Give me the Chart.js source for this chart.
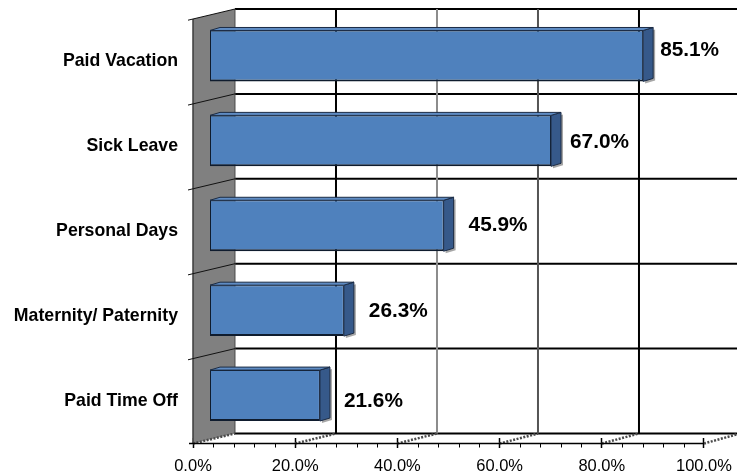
<!DOCTYPE html>
<html>
<head>
<meta charset="utf-8">
<script src="https://cdn.jsdelivr.net/npm/chart.js@4/dist/chart.umd.min.js"></script>
<style>
  html, body { margin: 0; padding: 0; background: #fff; }
  #wrap { width: 737px; height: 476px; }
</style>
</head>
<body>
<div id="wrap"><canvas id="c" width="737" height="476"></canvas></div>
<script>
// Share of employers offering each kind of paid leave (%)
const categories = ['Paid Vacation', 'Sick Leave', 'Personal Days', 'Maternity/ Paternity', 'Paid Time Off'];
const shares = [85.1, 67.0, 45.9, 26.3, 21.6];
const tickValues = [0, 20, 40, 60, 80, 100];
const minorStep = 4;

const FONT = "'Liberation Sans', Arial, Helvetica, sans-serif";

// Pseudo-3D look: walls sit in front of / behind the bar plane
const WALL_FRONT_DY = 5.5;
const WALL_BACK_DY = -4.5;
const BAR_DEPTH = { dx: 10, dy: -3 };
const gridColors = { 20: '#000', 40: '#8c8c8c', 60: '#555', 80: '#000', 100: '#000' };
const labelGap = [17, 19, 25, 25, 24];
const labelDy = [-6, 1, 0, 1, 6];

function poly(ctx, pts) {
  ctx.beginPath();
  ctx.moveTo(pts[0][0], pts[0][1]);
  for (let i = 1; i < pts.length; i++) ctx.lineTo(pts[i][0], pts[i][1]);
  ctx.closePath();
}

const frame3d = {
  id: 'frame3d',
  beforeDatasetsDraw(chart) {
    const { ctx, chartArea, scales: { y, xf, xb } } = chart;
    const n = categories.length;
    const bounds = [];
    for (let i = 0; i <= n; i++) bounds.push(y.getPixelForValue(i - 0.5));
    const fy = b => b + WALL_FRONT_DY;
    const by = b => b + WALL_BACK_DY;
    const fx0 = xf.getPixelForValue(0);
    const bx0 = xb.getPixelForValue(0);
    const slope = (WALL_BACK_DY - WALL_FRONT_DY) / (bx0 - fx0);

    ctx.save();
    // back wall: horizontal category rules
    ctx.strokeStyle = '#000';
    ctx.lineWidth = 2;
    bounds.forEach(b => {
      ctx.beginPath();
      ctx.moveTo(bx0, by(b));
      ctx.lineTo(chartArea.right, by(b));
      ctx.stroke();
    });
    // back wall: value gridlines
    tickValues.forEach(v => {
      if (v === 0) return;
      const x = xb.getPixelForValue(v);
      ctx.strokeStyle = gridColors[v];
      ctx.beginPath();
      ctx.moveTo(x, by(bounds[0]));
      ctx.lineTo(x, by(bounds[n]));
      ctx.stroke();
    });

    // side wall
    ctx.fillStyle = '#808080';
    poly(ctx, [[fx0, fy(bounds[0])], [bx0, by(bounds[0])], [bx0, by(bounds[n])], [fx0, fy(bounds[n])]]);
    ctx.fill();
    ctx.strokeStyle = '#3c3c3c';
    ctx.lineWidth = 1.5;
    ctx.beginPath();
    ctx.moveTo(fx0, fy(bounds[0]));
    ctx.lineTo(fx0, fy(bounds[n]));
    ctx.stroke();
    ctx.strokeStyle = '#4a4a4a';
    ctx.lineWidth = 1;
    ctx.beginPath();
    ctx.moveTo(bx0, by(bounds[0]));
    ctx.lineTo(bx0, by(bounds[n]));
    ctx.stroke();
    // slanted category rules on the side wall, with small ticks on the front edge
    ctx.strokeStyle = '#111';
    ctx.lineWidth = 1;
    for (let i = 0; i < n; i++) {
      const b = bounds[i];
      ctx.beginPath();
      ctx.moveTo(fx0 - 5, fy(b) - 5 * slope);
      ctx.lineTo(bx0, by(b));
      ctx.stroke();
    }

    // floor hatch lines joining front ticks to the back wall
    ctx.strokeStyle = '#4a4a4a';
    ctx.lineWidth = 2.5;
    ctx.setLineDash([2, 1.5]);
    tickValues.forEach(v => {
      ctx.beginPath();
      ctx.moveTo(xf.getPixelForValue(v), fy(bounds[n]));
      ctx.lineTo(xb.getPixelForValue(v), by(bounds[n]));
      ctx.stroke();
    });
    ctx.setLineDash([]);

    // front axis line and minor ticks
    const ay = fy(bounds[n]);
    ctx.strokeStyle = '#000';
    ctx.lineWidth = 1.5;
    ctx.beginPath();
    ctx.moveTo(fx0 - 4, ay);
    ctx.lineTo(xf.getPixelForValue(tickValues[tickValues.length - 1]), ay);
    ctx.stroke();
    ctx.lineWidth = 1;
    for (let v = minorStep; v < 100; v += minorStep) {
      if (v % 20 === 0) continue;
      const x = Math.round(xf.getPixelForValue(v)) + 0.5;
      ctx.beginPath();
      ctx.moveTo(x, ay);
      ctx.lineTo(x, ay + 4);
      ctx.stroke();
    }
    ctx.restore();
  },
  afterDatasetsDraw(chart) {
    const { ctx } = chart;
    const meta = chart.getDatasetMeta(0);
    const { dx, dy } = BAR_DEPTH;
    ctx.save();
    meta.data.forEach((el, i) => {
      const { x, y, base, height } = el.getProps(['x', 'y', 'base', 'height'], true);
      const top = y - height / 2;
      const bot = y + height / 2;
      // soft shadow behind the right face
      ctx.fillStyle = 'rgba(0,0,0,0.35)';
      poly(ctx, [[x + 2, top + 2], [x + dx + 2, top + dy + 2], [x + dx + 2, bot + dy + 2], [x + 2, bot + 2]]);
      ctx.fill();
      // right face
      ctx.fillStyle = '#36598a';
      ctx.strokeStyle = '#1b2b44';
      ctx.lineWidth = 1;
      poly(ctx, [[x, top], [x + dx, top + dy], [x + dx, bot + dy], [x, bot]]);
      ctx.fill();
      ctx.stroke();
      // top face
      ctx.fillStyle = '#5f8cc4';
      poly(ctx, [[base, top], [base + dx, top + dy], [x + dx, top + dy], [x, top]]);
      ctx.fill();
      ctx.stroke();

      // value label
      ctx.fillStyle = '#000';
      ctx.font = 'bold 20.8px ' + FONT;
      ctx.textAlign = 'left';
      ctx.textBaseline = 'middle';
      ctx.fillText(shares[i].toFixed(1) + '%', x + labelGap[i], y + labelDy[i]);
    });
    ctx.restore();
  }
};

function zeroPad(s) {
  s.paddingTop = 0; s.paddingBottom = 0; s.paddingLeft = 0; s.paddingRight = 0;
}

new Chart(document.getElementById('c'), {
  type: 'bar',
  data: {
    labels: categories,
    datasets: [{
      data: shares,
      backgroundColor: '#4f81bd',
      borderColor: '#0f1c2e',
      borderWidth: { top: 1, left: 1, right: 1, bottom: 2 },
      borderSkipped: false,
      categoryPercentage: 1,
      barPercentage: 0.6
    }]
  },
  options: {
    indexAxis: 'y',
    responsive: false,
    devicePixelRatio: 1,
    animation: false,
    layout: { padding: { top: 13.5, right: 0, bottom: 0, left: 0 } },
    plugins: { legend: { display: false }, tooltip: { enabled: false } },
    scales: {
      y: {
        type: 'category',
        position: 'left',
        offset: true,
        grid: { display: false, drawTicks: false },
        border: { display: false },
        ticks: {
          autoSkip: false,
          padding: 15,
          labelOffset: 5.5,
          color: '#000',
          font: { family: FONT, size: 17.7, weight: 'bold' }
        },
        afterFit(s) { s.width = 193; zeroPad(s); }
      },
      x: {
        type: 'linear',
        position: 'bottom',
        display: false,
        min: -3.34,
        max: 103.54,
        ticks: { display: false },
        afterFit: zeroPad
      },
      xb: {
        type: 'linear',
        position: 'bottom',
        display: false,
        min: -8.317,
        max: 99.41,
        ticks: { display: false },
        afterFit: zeroPad
      },
      xf: {
        type: 'linear',
        position: 'bottom',
        min: 0,
        max: 106.46,
        afterBuildTicks(s) { s.ticks = tickValues.map(v => ({ value: v })); },
        grid: { drawOnChartArea: false, drawTicks: true, tickLength: 10, tickColor: '#000', tickWidth: 1.5 },
        border: { display: false },
        ticks: {
          autoSkip: false,
          maxRotation: 0,
          padding: 9,
          color: '#000',
          font: { family: FONT, size: 16.5 },
          callback: v => Number(v).toFixed(1) + '%'
        },
        afterFit(s) { s.height = 38; zeroPad(s); }
      }
    }
  },
  plugins: [frame3d]
});
</script>
</body>
</html>
